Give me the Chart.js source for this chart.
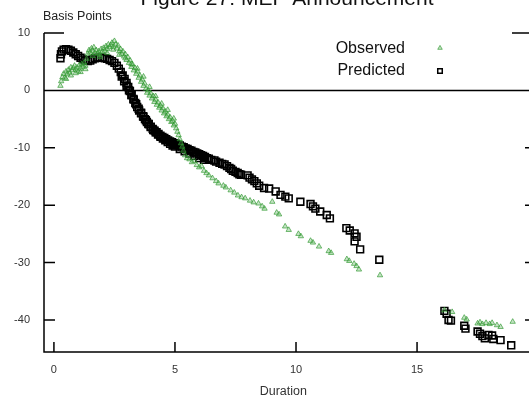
<!DOCTYPE html>
<html>
<head>
<meta charset="UTF-8">
<title>Figure 27: MEP Announcement</title>
<script src="https://cdn.jsdelivr.net/npm/chart.js@4.4.4/dist/chart.umd.min.js"></script>
</head>
<body style="margin:0; background:#fff;">
<canvas id="mep" width="529" height="400"></canvas>
<script>
// Observed (green triangles): duration, basis points
const obsX = [0.27,0.3,0.35,0.4,0.45,0.5,0.55,0.6,0.65,0.7,0.75,0.8,0.85,0.9,0.95,1.0,1.05,1.1,1.15,1.2,1.25,1.3,1.35,1.4,1.45,1.5,1.55,1.6,1.65,1.7,1.75,1.8,1.85,1.9,1.95,2.0,2.05,2.1,2.15,2.2,2.25,2.3,2.35,2.4,2.45,2.5,2.55,2.6,2.65,2.7,2.75,2.8,2.85,2.9,2.95,3.0,3.05,3.1,3.15,3.2,3.25,3.3,3.35,3.4,3.45,3.5,3.55,3.6,3.65,3.7,3.75,3.8,3.85,3.9,3.95,4.0,4.05,4.1,4.15,4.2,4.25,4.3,4.35,4.4,4.45,4.5,4.55,4.6,4.65,4.7,4.75,4.8,4.85,4.9,4.95,5.0,5.05,5.1,5.15,5.2,5.25,5.3,5.35,5.42,5.5,5.6,5.7,5.8,5.9,6.0,6.1,6.2,6.3,6.4,6.55,6.7,6.8,7.0,7.1,7.3,7.45,7.6,7.75,7.9,8.1,8.25,8.45,8.6,8.7,9.02,9.2,9.3,9.55,9.7,10.1,10.2,10.6,10.7,10.95,11.35,11.45,12.1,12.2,12.4,12.5,12.6,13.47,16.13,16.45,16.95,17.05,17.5,17.6,17.7,17.85,18.0,18.1,18.3,18.45,18.95,
    0.5,0.7,0.9,1.1,1.3,1.6,1.9,2.2,2.45,2.7,2.95,3.2,3.45,3.7,3.95,4.2,4.45,4.7,4.95];
const obsY = [0.8,1.6,2.3,2.9,2.2,3.3,2.8,3.6,3.1,4.0,3.5,3.9,4.3,3.6,4.0,3.3,4.4,3.8,4.6,4.1,4.8,4.3,5.5,6.4,7.0,6.6,7.3,6.9,7.5,6.5,7.0,6.4,6.8,6.2,7.2,6.7,7.4,6.9,7.7,7.2,8.0,7.5,7.9,8.3,7.6,8.6,8.0,7.3,7.8,6.8,7.2,6.4,6.8,5.9,6.3,5.3,5.8,4.8,5.2,4.1,4.5,3.5,3.9,2.9,3.3,2.2,2.6,1.5,1.9,0.8,1.2,0.3,-0.4,0.0,-0.9,-0.5,-1.4,-1.0,-2.0,-1.6,-2.5,-2.1,-3.0,-2.7,-3.5,-3.1,-4.0,-3.7,-4.5,-4.2,-5.0,-4.7,-5.5,-5.3,-6.1,-5.8,-6.6,-7.2,-7.8,-8.5,-9.2,-9.8,-10.5,-11.3,-11.8,-12.0,-12.5,-12.3,-13.0,-13.4,-13.2,-14.0,-14.4,-14.8,-15.3,-15.8,-16.2,-16.6,-16.9,-17.4,-17.8,-18.3,-18.6,-18.8,-19.2,-19.5,-19.7,-20.2,-20.6,-19.4,-21.3,-21.6,-23.7,-24.3,-25.0,-25.4,-26.2,-26.5,-27.2,-28.0,-28.3,-29.4,-29.7,-30.2,-30.6,-31.2,-32.2,-38.3,-38.6,-39.6,-39.9,-40.6,-40.4,-40.7,-40.5,-40.7,-40.5,-40.9,-41.2,-40.3,
    2.0,2.6,3.0,3.2,3.7,6.0,5.8,6.5,7.1,6.2,5.6,4.6,3.8,2.4,0.6,-1.0,-2.3,-3.4,-4.9];

// Predicted (black open squares)
const predX = [0.27,0.29,0.33,0.4,0.5,0.6,0.7,0.8,0.9,1.0,1.1,1.2,1.3,1.4,1.5,1.6,1.7,1.8,1.9,2.0,2.1,2.2,2.3,2.4,2.5,2.6,2.68,2.76,2.84,2.92,3.0,3.07,3.14,3.21,3.28,3.36,3.44,3.52,3.6,3.68,3.76,3.84,3.92,4.0,4.08,4.16,4.24,4.32,4.4,4.48,4.56,4.64,4.72,4.8,4.88,4.96,5.04,5.12,5.2,5.28,5.36,5.44,5.52,5.6,5.68,5.76,5.84,5.92,6.0,6.08,6.16,6.24,6.32,6.4,6.5,6.63,6.7,6.84,6.95,7.05,7.15,7.25,7.32,7.39,7.5,7.59,7.66,7.73,8.0,8.08,8.18,8.28,8.38,8.48,8.68,8.89,9.16,9.36,9.56,9.7,10.18,10.6,10.7,10.8,11.0,11.27,11.4,12.08,12.22,12.42,12.5,12.42,12.65,13.44,16.13,16.22,16.3,16.4,16.95,17.0,17.5,17.6,17.7,17.8,17.95,18.1,18.15,18.45,18.89,
    2.8,2.9,3.0,3.1,3.2,3.3,3.4,3.5,3.6,3.7,3.8,3.9,4.0,4.1,4.2,4.3,4.4,4.5,4.6,4.7,4.8,4.9,5.0,5.2,5.4,5.6,5.8,6.0,6.2];
const predY = [5.6,6.3,6.8,7.1,7.2,7.1,6.9,6.6,6.3,6.0,5.7,5.4,5.2,5.1,5.2,5.4,5.6,5.7,5.7,5.7,5.6,5.5,5.3,5.1,4.8,4.3,3.8,3.2,2.6,2.0,1.3,0.6,-0.1,-0.8,-1.5,-2.2,-2.9,-3.5,-4.0,-4.5,-5.0,-5.5,-5.9,-6.3,-6.7,-7.0,-7.3,-7.6,-7.9,-8.1,-8.3,-8.5,-8.7,-8.9,-9.0,-9.2,-9.3,-9.5,-9.6,-9.8,-9.9,-10.1,-10.2,-10.4,-10.5,-10.7,-10.8,-11.0,-11.1,-11.3,-11.4,-11.6,-11.8,-11.9,-12.1,-12.2,-12.4,-12.6,-12.8,-12.9,-13.2,-13.5,-13.7,-14.0,-14.2,-14.4,-14.6,-14.7,-14.8,-15.2,-15.5,-15.8,-16.2,-16.6,-17.0,-17.1,-17.6,-18.2,-18.5,-18.8,-19.4,-19.8,-20.2,-20.6,-21.1,-21.7,-22.3,-24.0,-24.4,-24.9,-25.5,-26.3,-27.7,-29.5,-38.4,-38.9,-40.0,-40.1,-41.0,-41.5,-42.0,-42.4,-42.8,-43.2,-42.6,-42.7,-43.3,-43.5,-44.4,
    2.4,1.6,0.8,0.0,-0.8,-1.6,-2.4,-3.2,-3.9,-4.6,-5.2,-5.8,-6.4,-6.9,-7.3,-7.7,-8.1,-8.4,-8.7,-9.0,-9.3,-9.6,-9.8,-10.2,-10.6,-11.0,-11.4,-11.8,-12.1];

const xTicks = [0, 5, 10, 15];
const yTicks = [-40, -30, -20, -10, 0, 10];

const obsFill = 'rgba(90,175,90,0.35)';
const obsLine = 'rgba(45,150,45,0.65)';
const font = '"Liberation Sans", Arial, sans-serif';

// gnuplot-style frame: left/bottom axes, zero line, inward ticks, titles, legend
const framePlugin = {
    id: 'frame',
    beforeDatasetsDraw(chart) {
        const {ctx, chartArea: a, scales: {x, y}} = chart;
        const right = chart.width;
        ctx.save();
        ctx.strokeStyle = '#000';
        ctx.lineWidth = 1.5;
        ctx.beginPath();
        ctx.moveTo(a.left, a.top); ctx.lineTo(a.left, a.bottom); ctx.lineTo(right, a.bottom);
        const y0 = y.getPixelForValue(0);
        ctx.moveTo(a.left, y0); ctx.lineTo(right, y0);
        yTicks.forEach(v => {
            const py = y.getPixelForValue(v);
            const len = v === 10 ? 20 : 11;
            ctx.moveTo(a.left, py); ctx.lineTo(a.left + len, py);
            ctx.moveTo(right, py); ctx.lineTo(right - (v === 10 ? 17 : 4), py);
        });
        xTicks.forEach(v => {
            const px = x.getPixelForValue(v);
            ctx.moveTo(px, a.bottom); ctx.lineTo(px, a.bottom - 10);
        });
        ctx.stroke();
        ctx.restore();
    },
    afterDraw(chart) {
        const {ctx} = chart;
        ctx.save();
        ctx.fillStyle = '#111';
        ctx.textAlign = 'center';
        ctx.textBaseline = 'alphabetic';
        ctx.font = '21px ' + font;
        ctx.fillText('Figure 27: MEP Announcement', 287, 5);
        ctx.textAlign = 'left';
        ctx.font = '12.5px ' + font;
        ctx.fillStyle = '#222';
        ctx.fillText('Basis Points', 43, 20);

        // legend
        ctx.textAlign = 'right';
        ctx.textBaseline = 'middle';
        ctx.font = '16px ' + font;
        ctx.fillStyle = '#111';
        ctx.fillText('Observed', 405, 49);
        ctx.fillText('Predicted', 405, 71);
        ctx.fillStyle = obsFill; ctx.strokeStyle = obsLine; ctx.lineWidth = 1;
        Chart.helpers.drawPoint(ctx, {pointStyle: 'triangle', radius: 2.6, rotation: 0, borderWidth: 1}, 440, 48);
        ctx.fillStyle = 'rgba(0,0,0,0)'; ctx.strokeStyle = '#000'; ctx.lineWidth = 1.5;
        Chart.helpers.drawPoint(ctx, {pointStyle: 'rect', radius: 3.2, rotation: 0, borderWidth: 1.5}, 440, 71);
        ctx.restore();
    }
};

const observed = obsX.map((d, i) => ({x: d, y: obsY[i]}));
const predicted = predX.map((d, i) => ({x: d, y: predY[i]}));

new Chart(document.getElementById('mep'), {
    type: 'scatter',
    data: {
        datasets: [
            {
                label: 'Observed',
                data: observed,
                pointStyle: 'triangle',
                pointRadius: 3.1,
                backgroundColor: obsFill,
                borderColor: obsLine,
                borderWidth: 1
            },
            {
                label: 'Predicted',
                data: predicted,
                pointStyle: 'rect',
                pointRadius: 4.8,
                backgroundColor: 'rgba(0,0,0,0)',
                borderColor: '#000',
                borderWidth: 1.6
            }
        ]
    },
    options: {
        responsive: false,
        animation: false,
        layout: { padding: { top: 33, right: -7, left: 0, bottom: 0 } },
        plugins: { legend: { display: false }, tooltip: { enabled: false } },
        scales: {
            x: {
                type: 'linear',
                min: -0.41,
                max: 19.36,
                afterBuildTicks: s => { s.ticks = xTicks.map(v => ({value: v})); },
                afterFit: s => { s.height = 48; },
                grid: { display: false, drawTicks: false },
                border: { display: false },
                ticks: { padding: 11, color: '#333', font: { family: font, size: 11 } },
                title: { display: true, text: 'Duration', color: '#333', padding: { top: 0, bottom: 1 }, font: { family: font, size: 12.5 } }
            },
            y: {
                type: 'linear',
                min: -45.57,
                max: 10,
                afterBuildTicks: s => { s.ticks = yTicks.map(v => ({value: v})); },
                afterFit: s => { s.width = 44; },
                grid: { display: false, drawTicks: false },
                border: { display: false },
                ticks: { padding: 14, color: '#333', font: { family: font, size: 11 } }
            }
        }
    },
    plugins: [framePlugin]
});
</script>
</body>
</html>
